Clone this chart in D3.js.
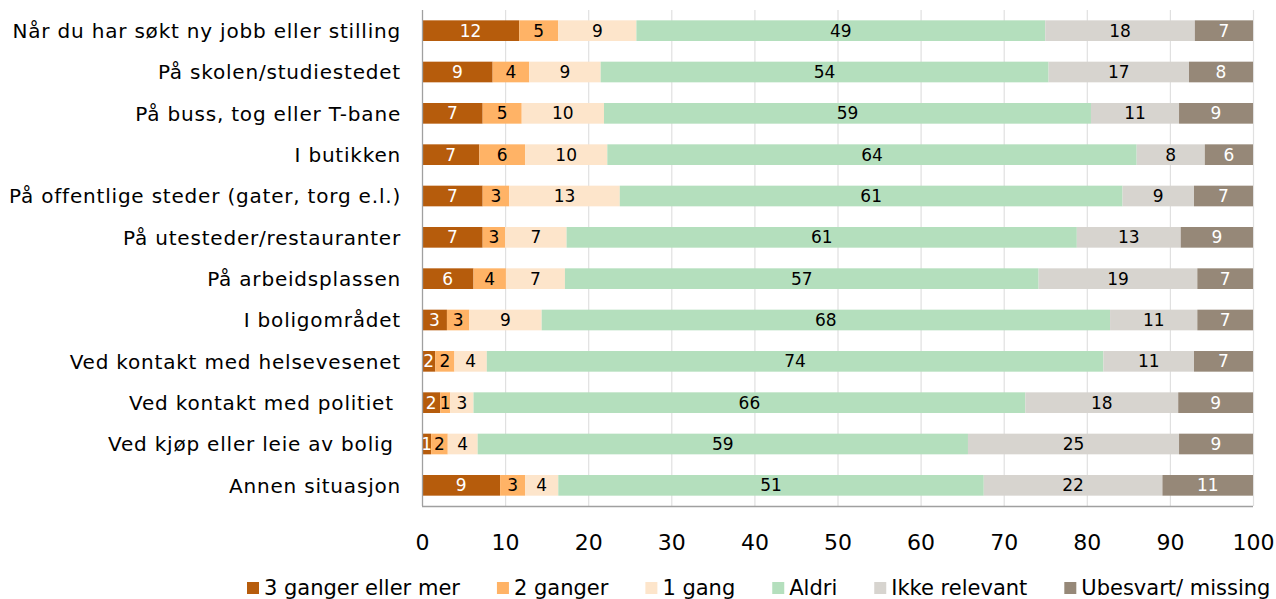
<!DOCTYPE html>
<html><head><meta charset="utf-8">
<script src="https://cdn.jsdelivr.net/npm/d3@7"></script>
<style>body{margin:0;background:#fff} svg{display:block} .ylab text{white-space:pre}</style>
</head><body><svg id="c" width="1276" height="599"></svg>
<script>
const categories = [
  "Når du har søkt ny jobb eller stilling",
  "På skolen/studiestedet",
  "På buss, tog eller T-bane",
  "I butikken",
  "På offentlige steder (gater, torg e.l.)",
  "På utesteder/restauranter",
  "På arbeidsplassen",
  "I boligområdet",
  "Ved kontakt med helsevesenet",
  "Ved kontakt med politiet ",
  "Ved kjøp eller leie av bolig ",
  "Annen situasjon"
];
const seriesNames = ["3 ganger eller mer","2 ganger","1 gang","Aldri","Ikke relevant","Ubesvart/ missing"];
const threeOrMore = [11.7, 8.5, 7.3, 6.9, 7.3, 7.3, 6.2, 3.0, 1.6, 2.2, 1.1, 9.4];
const twice       = [ 4.7, 4.4, 4.7, 5.5, 3.2, 2.7, 3.9, 2.7, 2.3, 1.2, 2.0, 3.0];
const once        = [ 9.4, 8.6, 9.9, 9.9,13.3, 7.4, 7.1, 8.7, 3.9, 2.8, 3.6, 4.0];
const never       = [49.2,53.9,58.6,63.7,60.5,61.4,57.0,68.4,74.2,66.4,59.0,51.2];
const notRelevant = [18.0,16.9,10.6, 8.2, 8.6,12.5,19.1,10.5,10.9,18.4,25.4,21.5];
const missing     = [ 7.0, 7.7, 8.9, 5.8, 7.1, 8.7, 6.7, 6.7, 7.1, 9.0, 8.9,10.9];
const xTicks = [0,10,20,30,40,50,60,70,80,90,100];

(function(){
const colors = ["#b65c0c","#ffb366","#fde5cb","#b4dfbd","#d7d4cf","#968878"];
const labelColors = ["#fff","#000","#000","#000","#000","#fff"];
const seriesValues = [threeOrMore, twice, once, never, notRelevant, missing];

const rows = categories.map((c,i) => {
  const r = {cat: c};
  seriesNames.forEach((s,j) => r[s] = seriesValues[j][i]);
  return r;
});

const svg = d3.select("#c");
const font = "'DejaVu Sans', Verdana, sans-serif";
const pLeft = 422, pRight = 1253, pTop = 10, pBottom = 506;

const x = d3.scaleLinear().domain([0,100]).range([pLeft,pRight]);
const y = d3.scaleBand().domain(d3.range(categories.length)).range([pTop,pBottom])
  .paddingInner(0.5).paddingOuter(0.25);

// gridlines
svg.append("g").selectAll("line").data(xTicks.filter(t=>t>0)).join("line")
  .attr("x1",d=>x(d)+0.5).attr("x2",d=>x(d)+0.5).attr("y1",pTop).attr("y2",pBottom)
  .attr("stroke","#e0e0e0").attr("stroke-width",1.2);

const stack = d3.stack().keys(seriesNames)(rows);

const g = svg.append("g");
stack.forEach((layer, j) => {
  g.append("g").selectAll("rect").data(layer).join("rect")
    .attr("x", d=>x(d[0])).attr("width", d=>x(d[1])-x(d[0]))
    .attr("y", (d,i)=>y(i)).attr("height", y.bandwidth())
    .attr("fill", colors[j]);
  g.append("g").selectAll("text").data(layer).join("text")
    .attr("x", d=>(x(d[0])+x(d[1]))/2)
    .attr("y", (d,i)=>y(i)+y.bandwidth()/2)
    .attr("dy","0.36em")
    .attr("text-anchor","middle")
    .attr("font-family",font).attr("font-size",17)
    .attr("fill", labelColors[j])
    .text(d=>Math.round(d[1]-d[0]));
});

// axis lines
svg.append("line").attr("x1",pLeft+0.5).attr("x2",pLeft+0.5).attr("y1",pTop).attr("y2",pBottom)
  .attr("stroke","#a0a0a0").attr("stroke-width",1.3);
svg.append("line").attr("x1",pLeft).attr("x2",pRight).attr("y1",pBottom+0.5).attr("y2",pBottom+0.5)
  .attr("stroke","#a0a0a0").attr("stroke-width",1.3);

// x axis tick labels
const xAxis = d3.axisBottom(x).tickValues(xTicks).tickSize(0).tickPadding(0);
const xg = svg.append("g").attr("transform",`translate(0,${pBottom})`).call(xAxis);
xg.select(".domain").remove();
xg.selectAll("text").attr("font-family",font).attr("font-size",22).attr("fill","#000")
  .attr("dy",null).attr("y",44);

// y axis labels
const yAxis = d3.axisLeft(y).tickFormat(i=>categories[i]).tickSize(0).tickPadding(0);
const yg = svg.append("g").attr("class","ylab").attr("transform",`translate(401,0)`).call(yAxis);
yg.select(".domain").remove();
yg.selectAll("text").attr("font-family",font).attr("font-size",20).attr("fill","#000")
  .attr("letter-spacing","0.8px").attr("dy","0.36em");

// legend
const lg = svg.append("g");
let cx = 247;
const gap = 37;
seriesNames.forEach((s,j) => {
  lg.append("rect").attr("x",cx).attr("y",582).attr("width",12).attr("height",12).attr("fill",colors[j]);
  const t = lg.append("text").attr("x",cx+17).attr("y",595)
    .attr("font-family",font).attr("font-size",21).attr("fill","#000").text(s);
  cx += 17 + t.node().getComputedTextLength() + gap;
});
})();
</script>
</body></html>
